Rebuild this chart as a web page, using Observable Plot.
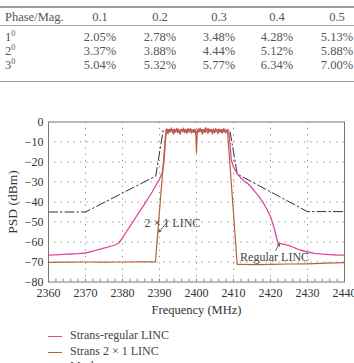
<!DOCTYPE html>
<html>
<head>
<meta charset="utf-8">
<script src="https://cdn.jsdelivr.net/npm/d3@7"></script>
<script src="https://cdn.jsdelivr.net/npm/@observablehq/plot@0.6"></script>
<style>
  html, body { margin: 0; padding: 0; background: #fff; }
  body { width: 354px; height: 363px; overflow: hidden; position: relative;
         font-family: "Liberation Serif", "DejaVu Serif", serif; color: #555; }
  .rule { position: absolute; left: 0; width: 354px; background: #9a9a9a; }
  .cell { position: absolute; font-size: 12.5px; line-height: 14px; white-space: nowrap;
          transform: translate(-50%, -50%); }
  .cell.first { transform: translate(0, -50%); }
  .cell sup { font-size: 8px; vertical-align: 5px; line-height: 0; }
  #chart { position: absolute; left: 0; top: 100px; }
  #legend { position: absolute; left: 0; top: 328px; font-size: 12px; color: #444; }
  .item { position: relative; height: 15.5px; line-height: 15.5px; padding-left: 70px; white-space: nowrap; }
  .sw { position: absolute; left: 48px; top: 8px; width: 14px; height: 0; border-top: 1.2px solid; }
</style>
</head>
<body>
<div id="table"></div>
<div id="chart"></div>
<div id="legend"></div>
<script>
// ---- Error table: phase error (rows) vs magnitude error (columns) ----
const magLabels = ["0.1", "0.2", "0.3", "0.4", "0.5"];
const phaseLabels = ["1", "2", "3"];
const errorRows = [
  [2.05, 2.78, 3.48, 4.28, 5.13],
  [3.37, 3.88, 4.44, 5.12, 5.88],
  [5.04, 5.32, 5.77, 6.34, 7.00]
];

// ---- PSD curves (frequency in MHz, PSD in dBm) ----
const regularLinc = [
  [2360, -66.6], [2362, -66.4], [2364, -66.2], [2366, -66.0], [2368, -65.8], [2370, -65.5],
  [2372, -64.6], [2374, -63.6], [2376, -62.6], [2378, -61.5], [2379, -60.5], [2380, -58.0],
  [2381, -55.0], [2382, -52.2], [2383, -49.4], [2384, -46.5], [2385, -43.7], [2386, -40.9],
  [2387, -38.0], [2388, -35.0], [2389, -31.8], [2390, -28.5], [2390.8, -25.0], [2391.2, -20.0],
  [2391.5, -12.0], [2391.8, -5.0],
  [2392.0, -4.1], [2392.3, -5.3], [2392.6, -3.7], [2392.9, -4.6], [2393.2, -3.4], [2393.5, -5.0],
  [2393.8, -4.2], [2394.1, -5.4], [2394.4, -3.9], [2394.7, -4.5], [2395.0, -3.5], [2395.3, -5.1],
  [2395.6, -4.3], [2395.9, -3.6], [2396.2, -4.9], [2396.5, -4.0], [2396.8, -5.2], [2397.1, -3.8],
  [2397.4, -4.4], [2397.7, -3.3], [2398.0, -5.0], [2398.3, -4.1], [2398.6, -3.7], [2398.9, -4.8],
  [2399.2, -3.9], [2399.5, -5.1], [2399.8, -4.3], [2400.1, -5.6], [2400.4, -4.0], [2400.7, -3.5],
  [2401.0, -4.7], [2401.3, -3.8], [2401.6, -5.2], [2401.9, -4.2], [2402.2, -3.6], [2402.5, -4.9],
  [2402.8, -4.0], [2403.1, -3.4], [2403.4, -5.0], [2403.7, -4.4], [2404.0, -3.7], [2404.3, -4.6],
  [2404.6, -3.5], [2404.9, -5.3], [2405.2, -4.1], [2405.5, -3.8], [2405.8, -4.9], [2406.1, -3.6],
  [2406.4, -4.5], [2406.7, -5.0], [2407.0, -3.9], [2407.3, -4.7], [2407.6, -3.6], [2407.9, -5.1],
  [2408.2, -4.3], [2408.5, -4.8],
  [2408.8, -6.0], [2409.1, -12.0], [2409.4, -19.0], [2410, -22.5], [2411, -25.8], [2412, -28.0],
  [2413, -29.8], [2414, -31.0], [2415, -33.0], [2416, -35.3], [2417, -37.6], [2418, -40.3],
  [2419, -43.5], [2420, -47.3], [2421, -53.0], [2422, -60.6], [2423, -60.9], [2424, -61.3],
  [2425, -61.8], [2426, -62.5], [2427, -63.3], [2428, -64.0], [2430, -65.0], [2432, -65.7],
  [2434, -66.1], [2436, -66.3], [2438, -66.5], [2440, -66.6]
];

const twoByOneLinc = [
  [2360, -70.2], [2365, -70.1], [2370, -70.0], [2375, -70.1], [2380, -70.0], [2385, -69.9],
  [2388.9, -69.9],
  [2391.7, -5.2], [2392.0, -3.4], [2392.3, -5.9], [2392.6, -3.9], [2392.9, -5.1], [2393.2, -2.9],
  [2393.5, -4.8], [2393.8, -6.0], [2394.1, -3.6], [2394.4, -4.9], [2394.7, -3.2], [2395.0, -5.5],
  [2395.3, -4.1], [2395.6, -6.2], [2395.9, -3.8], [2396.2, -4.6], [2396.5, -3.0], [2396.8, -5.3],
  [2397.1, -4.2], [2397.4, -5.8], [2397.7, -3.5], [2398.0, -4.7], [2398.3, -3.3], [2398.6, -5.6],
  [2398.9, -4.0], [2399.2, -5.2], [2399.5, -3.7], [2399.8, -5.5], [2400.0, -15.2], [2400.2, -5.8],
  [2400.4, -3.6], [2400.7, -5.0], [2401.0, -3.1], [2401.3, -4.8], [2401.6, -6.1], [2401.9, -3.9],
  [2402.2, -5.3], [2402.5, -2.8], [2402.8, -4.5], [2403.1, -5.7], [2403.4, -3.4], [2403.7, -4.9],
  [2404.0, -3.8], [2404.3, -6.0], [2404.6, -4.1], [2404.9, -5.4], [2405.2, -3.2], [2405.5, -4.7],
  [2405.8, -5.9], [2406.1, -3.6], [2406.4, -5.1], [2406.7, -4.0], [2407.0, -5.6], [2407.3, -3.3],
  [2407.6, -4.8], [2407.9, -5.5], [2408.2, -3.9], [2408.4, -5.0],
  [2411.0, -71.2], [2412, -71.2], [2416, -71.3], [2420, -71.2], [2425, -71.0], [2430, -70.9],
  [2435, -70.6], [2440, -70.3]
];

// Spectral emission mask
const mask = [
  [2360, -45], [2370, -45], [2389, -27], [2391, -4], [2409, -4], [2411, -26], [2430, -44.8], [2440, -44.8]
];

// Curve annotations: label position and arrow (tail -> head)
const annotations = [
  { text: "2 × 1 LINC", x: 2393.5, y: -50.8, anchor: "start", x1: 2392.4, y1: -49.4, x2: 2389.8, y2: -55.0 },
  { text: "Regular LINC", x: 2421.1, y: -67.8, anchor: "middle", x1: 2421.4, y1: -64.3, x2: 2422.4, y2: -60.9 }
];

const seriesColors = { regular: "#e2479c", twoByOne: "#b8603c", mask: "#333" };
const seriesNames = ["Strans-regular LINC", "Strans 2 × 1 LINC", "Mask"];

// ---- Table ----
const table = document.getElementById("table");
function addRule(top, h, color) {
  const r = document.createElement("div");
  r.className = "rule";
  r.style.top = top + "px";
  r.style.height = h + "px";
  if (color) r.style.background = color;
  table.appendChild(r);
}
function addCell(html, x, y, first) {
  const c = document.createElement("div");
  c.className = "cell" + (first ? " first" : "");
  c.style.left = x + "px";
  c.style.top = y + "px";
  c.innerHTML = html;
  table.appendChild(c);
}
const colX = [100, 160, 219, 277, 337];
const rowY = [36.7, 51, 65];
addRule(6, 1.5, "#999");
addRule(24.5, 1, "#aaa");
addRule(81.2, 1.2, "#999");
addCell("Phase/Mag.", 5, 16.7, true);
magLabels.forEach((m, j) => addCell(m, colX[j], 16.7));
phaseLabels.forEach((p, i) => {
  addCell(p + "<sup>0</sup>", 5, rowY[i], true);
  errorRows[i].forEach((v, j) => addCell(v.toFixed(2) + "%", colX[j], rowY[i]));
});

// ---- Chart ----
const toRows = (arr) => arr.map(([f, p]) => ({ f, p }));
const minus = (d) => (d < 0 ? "\u2212" + (-d) : String(d));
const gridStyle = { stroke: "#8a8a8a", strokeWidth: 1, strokeDasharray: "1.2,5.2" };

const chart = Plot.plot({
  width: 354,
  height: 220,
  marginLeft: 48,
  marginRight: 10,
  marginTop: 21.5,
  marginBottom: 38.5,
  style: { fontFamily: "'Liberation Serif', serif", fontSize: "12px", color: "#333", background: "transparent" },
  x: { domain: [2360, 2440] },
  y: { domain: [-80, 0] },
  marks: [
    Plot.ruleX(d3.range(2370, 2431, 10), gridStyle),
    Plot.ruleY(d3.range(-70, -9, 10), gridStyle),
    Plot.ruleX(d3.range(2362, 2440, 2), { y1: -80, y2: -78.6, stroke: "#666", strokeWidth: 0.8 }),
    Plot.line(toRows(mask), { x: "f", y: "p", stroke: seriesColors.mask, strokeWidth: 1, strokeDasharray: "9,3,1.5,3" }),
    Plot.line(toRows(regularLinc), { x: "f", y: "p", stroke: seriesColors.regular, strokeWidth: 1.3 }),
    Plot.line(toRows(twoByOneLinc), { x: "f", y: "p", stroke: seriesColors.twoByOne, strokeWidth: 1.2 }),
    Plot.arrow(annotations, { x1: "x1", y1: "y1", x2: "x2", y2: "y2", stroke: "#444", strokeWidth: 0.8, headLength: 5 }),
    Plot.text(annotations, { x: "x", y: "y", text: "text", textAnchor: "anchor", fill: "#444", fontSize: 12 }),
    Plot.frame({ stroke: "#777", strokeWidth: 1 }),
    Plot.axisX({ ticks: d3.range(2360, 2441, 10), tickSize: 0, tickPadding: 6, tickFormat: (d) => String(d),
                 fontSize: 12, label: null }),
    Plot.axisX({ ticks: [], label: "Frequency (MHz)", labelAnchor: "center", labelArrow: "none",
                 labelOffset: 32, fontSize: 12.5 }),
    Plot.axisY({ ticks: d3.range(-80, 1, 10), tickSize: 0, tickPadding: 5, tickFormat: minus,
                 fontSize: 12, label: null }),
    Plot.axisY({ ticks: [], label: "PSD (dBm)", labelAnchor: "center", labelArrow: "none",
                 labelOffset: 41, fontSize: 13.5 })
  ]
});
document.getElementById("chart").appendChild(chart);

// ---- Legend ----
const legend = document.getElementById("legend");
const legendStyles = [
  { color: seriesColors.regular, dash: "solid" },
  { color: seriesColors.twoByOne, dash: "solid" },
  { color: seriesColors.mask, dash: "dashed" }
];
seriesNames.forEach((name, i) => {
  const item = document.createElement("div");
  item.className = "item";
  const sw = document.createElement("span");
  sw.className = "sw";
  sw.style.borderTopColor = legendStyles[i].color;
  sw.style.borderTopStyle = legendStyles[i].dash;
  item.appendChild(sw);
  item.appendChild(document.createTextNode(name));
  legend.appendChild(item);
});
</script>
</body>
</html>
